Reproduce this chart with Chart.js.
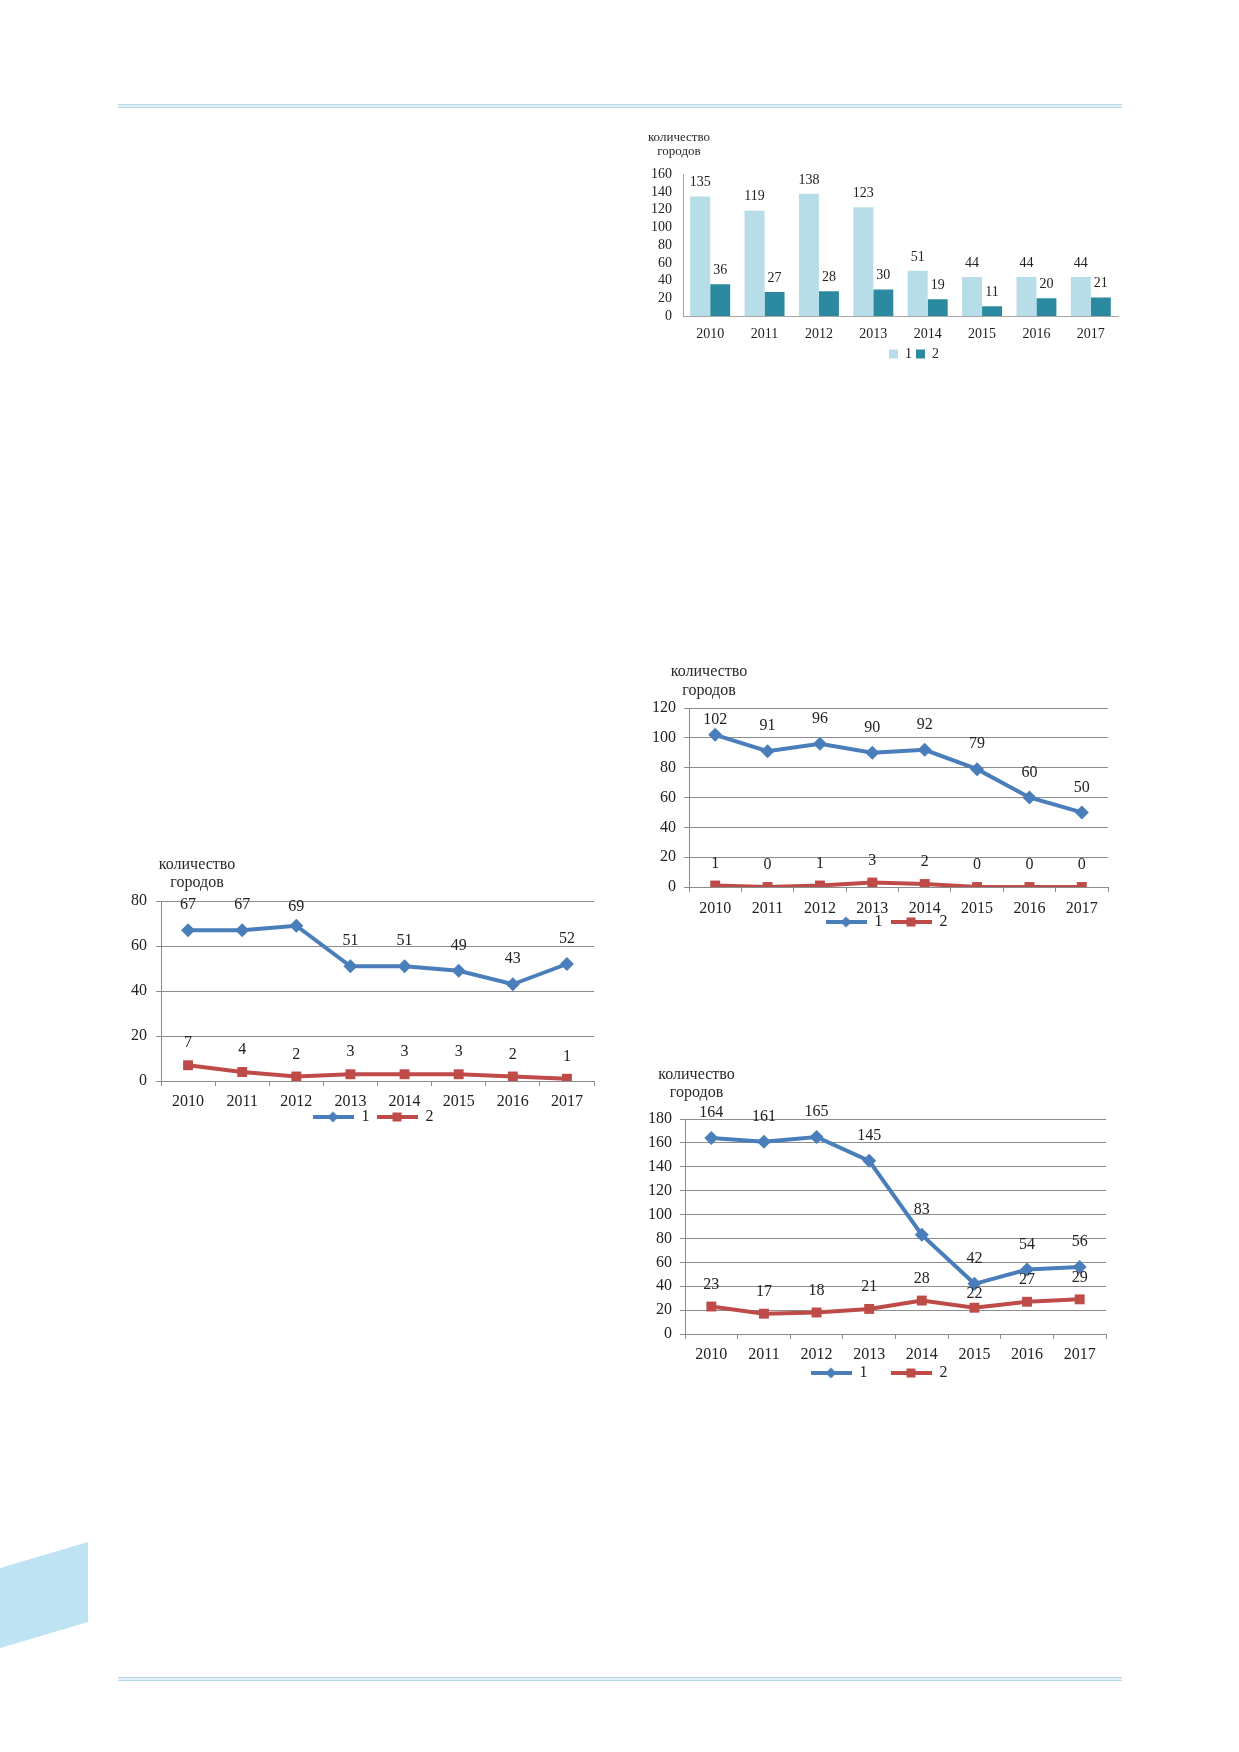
<!DOCTYPE html>
<html lang="ru">
<head>
<meta charset="utf-8">
<title>Количество городов</title>
<script src="https://cdn.jsdelivr.net/npm/chart.js@4.4.1/dist/chart.umd.min.js"></script>
<style>
  html, body { margin: 0; padding: 0; background: #fff; }
  body { position: relative; width: 1239px; height: 1752px; overflow: hidden;
         font-family: "Liberation Serif", "Times New Roman", serif; color: #222; }
  canvas { position: absolute; }
  .rule { position: absolute; left: 118px; width: 1004px; height: 2px;
          border-top: 1.5px solid #b6daea; border-bottom: 1.5px solid #b6daea; background: #e4f2f8; }
  .corner { position: absolute; left: 0; top: 1542px; width: 88px; height: 106px; background: #bee3f2;
            clip-path: polygon(0 26px, 88px 0, 88px 80px, 0 106px); }
  .ytitle { position: absolute; text-align: center; white-space: nowrap; color: #2a2a2a; }
</style>
</head>
<body>
<div class="rule" style="top:104px"></div>
<div class="rule" style="top:1677px"></div>
<div class="corner"></div>

<canvas id="barChart"></canvas>
<canvas id="lineChart1"></canvas>
<canvas id="lineChart2"></canvas>
<canvas id="lineChart3"></canvas>

<script>
// Годы по оси X (общие для всех диаграмм)
const years = ['2010', '2011', '2012', '2013', '2014', '2015', '2016', '2017'];

// Столбчатая диаграмма (вверху справа)
const barSeries1 = [135, 119, 138, 123, 51, 44, 44, 44];
const barSeries2 = [36, 27, 28, 30, 19, 11, 20, 21];
const barTicks = [0, 20, 40, 60, 80, 100, 120, 140, 160];

// Линейная диаграмма слева внизу
const line1Series1 = [67, 67, 69, 51, 51, 49, 43, 52];
const line1Series2 = [7, 4, 2, 3, 3, 3, 2, 1];
const line1Ticks = [0, 20, 40, 60, 80];

// Линейная диаграмма справа посередине
const line2Series1 = [102, 91, 96, 90, 92, 79, 60, 50];
const line2Series2 = [1, 0, 1, 3, 2, 0, 0, 0];
const line2Ticks = [0, 20, 40, 60, 80, 100, 120];

// Линейная диаграмма справа внизу
const line3Series1 = [164, 161, 165, 145, 83, 42, 54, 56];
const line3Series2 = [23, 17, 18, 21, 28, 22, 27, 29];
const line3Ticks = [0, 20, 40, 60, 80, 100, 120, 140, 160, 180];

const seriesNames = ['1', '2'];

const FONT = '"Liberation Serif", "Times New Roman", serif';
const BLUE = '#4a7ebb';
const RED = '#be4b48';
const BAR_LIGHT = '#b7dee8';
const BAR_DARK = '#2b8aa0';
const GRID = '#8c8c8c';
const AXIS = '#a6a6a6';

Chart.defaults.font.family = FONT;
Chart.defaults.color = '#222';

// Подписи значений над точками и столбцами
function valueLabels(size, offsets, tweak) {
    return {
        id: 'valueLabels',
        afterDatasetsDraw(chart) {
            const ctx = chart.ctx;
            ctx.save();
            ctx.font = size + 'px ' + FONT;
            ctx.fillStyle = '#222';
            ctx.textAlign = 'center';
            ctx.textBaseline = 'middle';
            chart.data.datasets.forEach((ds, di) => {
                const meta = chart.getDatasetMeta(di);
                meta.data.forEach((el, i) => {
                    const key = di + ':' + i;
                    const off = (tweak && tweak[key] !== undefined) ? tweak[key] : offsets[di];
                    ctx.fillText(String(ds.data[i]), el.x, el.y - off);
                });
            });
            ctx.restore();
        }
    };
}

// Сдвиг легенды (подписи оси X обрезаются по своей области, поэтому легенду двигаем отдельно)
function legendShift(dx, dy) {
    return {
        id: 'legendShift',
        afterLayout(chart) {
            if (chart.legend) {
                chart.legend.left += dx;
                chart.legend.right += dx;
                chart.legend.top += dy;
                chart.legend.bottom += dy;
            }
        }
    };
}

// Значок легенды: линия с маркером
function legendIcon(color, marker) {
    const c = document.createElement('canvas');
    c.width = 41;
    c.height = 14;
    const ctx = c.getContext('2d');
    ctx.strokeStyle = color;
    ctx.fillStyle = color;
    ctx.lineWidth = 4;
    ctx.beginPath();
    ctx.moveTo(0, 7);
    ctx.lineTo(41, 7);
    ctx.stroke();
    ctx.beginPath();
    if (marker === 'diamond') {
        ctx.moveTo(20.5, 1.5);
        ctx.lineTo(26, 7);
        ctx.lineTo(20.5, 12.5);
        ctx.lineTo(15, 7);
        ctx.closePath();
    } else {
        ctx.rect(16, 2.5, 9, 9);
    }
    ctx.fill();
    return c;
}

const icons = [legendIcon(BLUE, 'diamond'), legendIcon(RED, 'square')];

function placeCanvas(id, left, top, width, height) {
    const c = document.getElementById(id);
    c.width = width;
    c.height = height;
    c.style.left = left + 'px';
    c.style.top = top + 'px';
    c.style.width = width + 'px';
    c.style.height = height + 'px';
    return c;
}

function addTitle(cx, top, size, lineHeight) {
    const d = document.createElement('div');
    d.className = 'ytitle';
    d.style.left = (cx - 60) + 'px';
    d.style.width = '120px';
    d.style.top = top + 'px';
    d.style.fontSize = size + 'px';
    d.style.lineHeight = lineHeight + 'px';
    d.innerHTML = 'количество<br>городов';
    document.body.appendChild(d);
}

function buildBarChart() {
    const canvas = placeCanvas('barChart', 640, 155, 500, 216);
    new Chart(canvas, {
        type: 'bar',
        data: {
            labels: years,
            datasets: [
                { label: seriesNames[0], data: barSeries1, backgroundColor: BAR_LIGHT, borderWidth: 0,
                  barPercentage: 1, categoryPercentage: 0.735 },
                { label: seriesNames[1], data: barSeries2, backgroundColor: BAR_DARK, borderWidth: 0,
                  barPercentage: 1, categoryPercentage: 0.735 }
            ]
        },
        options: {
            responsive: false,
            animation: false,
            layout: { padding: { top: 17, right: 22, left: 0, bottom: 0 } },
            scales: {
                x: {
                    grid: { display: false, drawTicks: false },
                    border: { display: true, color: AXIS },
                    ticks: { padding: 10, font: { size: 14 }, maxRotation: 0, autoSkip: false },
                    afterFit: (s) => { s.height = 27; }
                },
                y: {
                    min: barTicks[0],
                    max: barTicks[barTicks.length - 1],
                    grid: { display: false, drawTicks: false },
                    border: { display: true, color: AXIS },
                    ticks: { stepSize: barTicks[1] - barTicks[0], padding: 11, font: { size: 14 }, autoSkip: false },
                    afterFit: (s) => { s.width = 43; }
                }
            },
            plugins: {
                legend: {
                    position: 'bottom',
                    labels: { boxWidth: 9, boxHeight: 9, padding: 4, font: { size: 14 }, color: '#222' }
                },
                tooltip: { enabled: false }
            }
        },
        plugins: [valueLabels(14, [14, 14]), legendShift(35, 0)]
    });
    addTitle(679, 130, 13, 14);
}

function buildLineChart(cfg) {
    const canvas = placeCanvas(cfg.id, cfg.left, cfg.top, cfg.width, cfg.height);
    new Chart(canvas, {
        type: 'line',
        data: {
            labels: years,
            datasets: [
                { label: seriesNames[0], data: cfg.a, borderColor: BLUE, backgroundColor: BLUE, borderWidth: 4,
                  pointStyle: 'rectRot', pointRadius: 7, pointBorderWidth: 0, tension: 0 },
                { label: seriesNames[1], data: cfg.b, borderColor: RED, backgroundColor: RED, borderWidth: 4,
                  pointStyle: 'rect', pointRadius: 7, pointBorderWidth: 0, tension: 0 }
            ]
        },
        options: {
            responsive: false,
            animation: false,
            layout: { padding: { top: cfg.padTop, right: cfg.padRight, left: 0, bottom: 0 } },
            scales: {
                x: {
                    offset: true,
                    grid: { offset: true, drawOnChartArea: false, tickLength: 5, color: GRID },
                    border: { color: GRID },
                    ticks: { padding: cfg.xPad, font: { size: 16 }, maxRotation: 0, autoSkip: false },
                    afterFit: (s) => { s.height = 30; }
                },
                y: {
                    min: cfg.ticks[0],
                    max: cfg.ticks[cfg.ticks.length - 1],
                    grid: { color: GRID, tickLength: 5 },
                    border: { color: GRID },
                    ticks: { stepSize: cfg.ticks[1] - cfg.ticks[0], padding: cfg.yPad, font: { size: 16 }, autoSkip: false },
                    afterFit: (s) => { s.width = cfg.yWidth; }
                }
            },
            plugins: {
                legend: {
                    position: 'bottom',
                    labels: {
                        usePointStyle: true,
                        pointStyleWidth: 41,
                        padding: cfg.legendPad,
                        font: { size: 16 },
                        color: '#222',
                        generateLabels: (chart) => Chart.defaults.plugins.legend.labels.generateLabels(chart)
                            .map((item, i) => Object.assign(item, { pointStyle: icons[i] }))
                    }
                },
                tooltip: { enabled: false }
            }
        },
        plugins: [valueLabels(16, [25, 22], cfg.tweak), legendShift(cfg.legendDx, cfg.legendDy)]
    });
    addTitle(cfg.titleX, cfg.titleTop, 16, cfg.titleLh);
}

document.addEventListener('DOMContentLoaded', () => {
    buildBarChart();

    buildLineChart({
        id: 'lineChart1', left: 120, top: 880, width: 500, height: 264,
        a: line1Series1, b: line1Series2, ticks: line1Ticks,
        padTop: 21, padRight: 26, yWidth: 41, xPad: 6, yPad: 9,
        legendPad: 7, legendDx: 16, legendDy: -9, tweak: { '0:2': 19 },
        titleX: 197, titleTop: 855, titleLh: 18
    });

    buildLineChart({
        id: 'lineChart2', left: 645, top: 690, width: 485, height: 261,
        a: line2Series1, b: line2Series2, ticks: line2Ticks,
        padTop: 18, padRight: 22, yWidth: 44, xPad: 7, yPad: 8,
        legendPad: 8, legendDx: 10, legendDy: -11, tweak: { '0:0': 15 },
        titleX: 709, titleTop: 661, titleLh: 19
    });

    buildLineChart({
        id: 'lineChart3', left: 640, top: 1100, width: 490, height: 313,
        a: line3Series1, b: line3Series2, ticks: line3Ticks,
        padTop: 19, padRight: 24, yWidth: 45, xPad: 6, yPad: 8,
        legendPad: 23, legendDx: 6, legendDy: -22, tweak: { '1:5': 14 },
        titleX: 696.5, titleTop: 1065, titleLh: 18
    });
});
</script>
</body>
</html>
